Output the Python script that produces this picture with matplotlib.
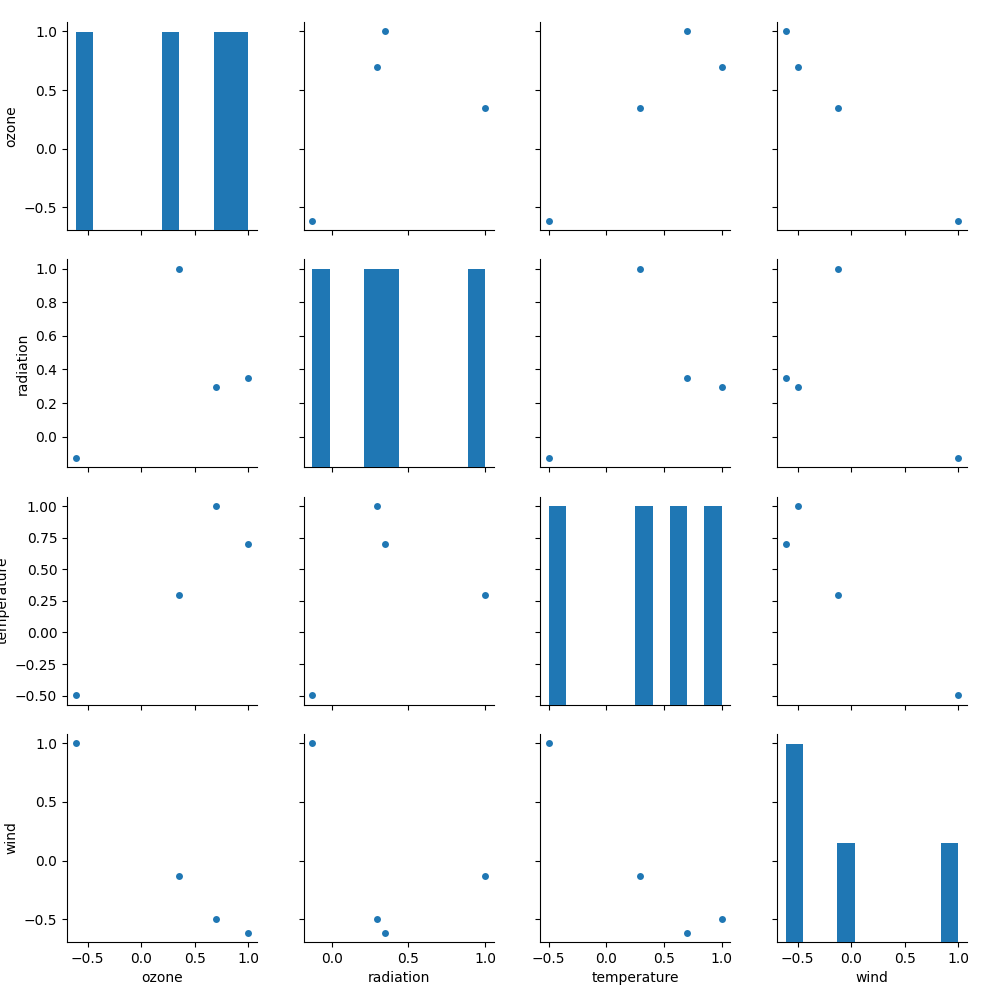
import numpy as np
import matplotlib
matplotlib.use("Agg")
import matplotlib.pyplot as plt

# correlation matrix of the environmental data, one row per variable
names = ["ozone", "radiation", "temperature", "wind"]
ozone = [1.0, 0.348, 0.699, -0.613]
radiation = [0.348, 1.0, 0.294, -0.127]
temperature = [0.699, 0.294, 1.0, -0.497]
wind = [-0.613, -0.127, -0.497, 1.0]
cols = [ozone, radiation, temperature, wind]

blue = "#1f77b4"
n = len(names)

fig, axes = plt.subplots(n, n, figsize=(10, 10), sharex="col", sharey="row")
fig.subplots_adjust(left=0.067, right=0.967, bottom=0.058, top=0.978,
                    wspace=0.245, hspace=0.14)

for i in range(n):
    for j in range(n):
        ax = axes[i, j]
        if i == j:
            hax = ax.twinx()
            hax.hist(np.array(cols[j]), bins=10, color=blue)
            hax.set_axis_off()
        else:
            ax.scatter(cols[j], cols[i], s=25, color=blue, linewidths=0)
        ax.spines["top"].set_visible(False)
        ax.spines["right"].set_visible(False)
        if i == n - 1:
            ax.set_xlabel(names[j])
        if j == 0:
            ax.set_ylabel(names[i])

fig.savefig("out.png", dpi=100)
